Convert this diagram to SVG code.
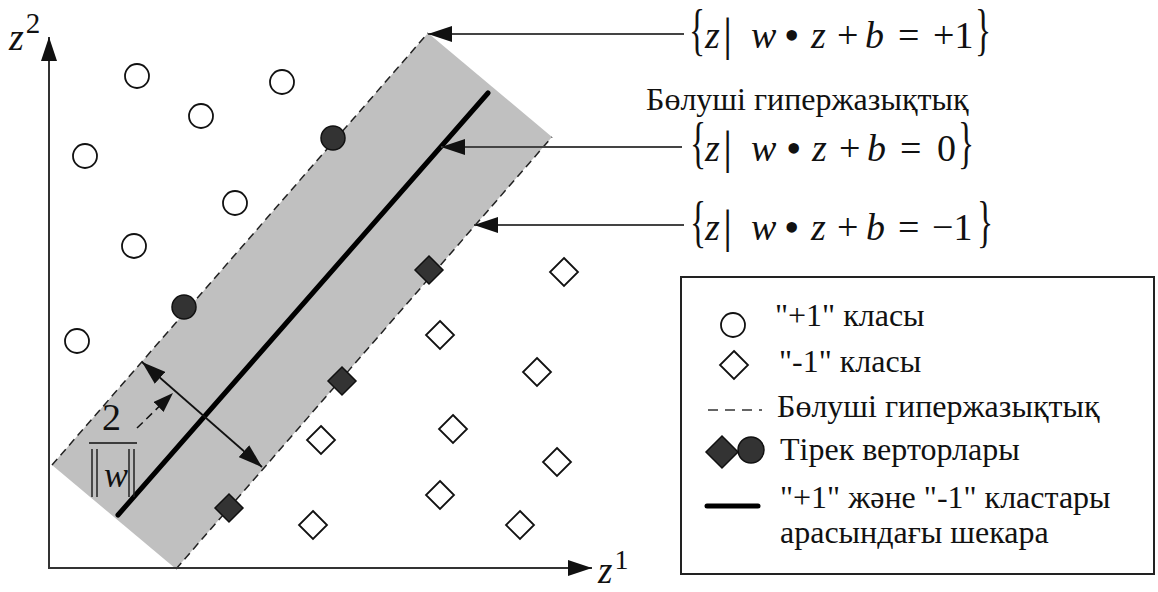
<svg xmlns="http://www.w3.org/2000/svg" xmlns:xlink="http://www.w3.org/1999/xlink" width="1158" height="592" viewBox="0 0 1158 592">
<style>
  .t { font-family: "Liberation Serif", "Times New Roman", serif; fill: #111; }
  .it { font-style: italic; }
  .open { fill: #fff; stroke: #111; stroke-width: 1.8; }
  .sv { fill: #333; stroke: #111; stroke-width: 1.5; }
  .axis { stroke: #333; stroke-width: 2; fill: none; }
  .ptr { stroke: #444; stroke-width: 2; fill: none; }
  .dash { stroke: #222; stroke-width: 1.5; stroke-dasharray: 8 5; fill: none; }
  .lg { font-size: 32px; }
  .bar { stroke: #222; stroke-width: 1.5; }
</style>
<defs>
  <marker id="ah" markerUnits="userSpaceOnUse" markerWidth="24" markerHeight="16" viewBox="0 0 24 16" refX="24" refY="8" orient="auto-start-reverse">
    <path d="M0,0 L24,8 L0,16 Z" fill="#111"/>
  </marker>
  <marker id="ahs" markerUnits="userSpaceOnUse" markerWidth="20" markerHeight="14" viewBox="0 0 20 14" refX="20" refY="7" orient="auto">
    <path d="M0,0 L20,7 L0,14 Z" fill="#111"/>
  </marker>
  <circle id="circ" r="12"/>
  <path id="diam" d="M0,-14 L14,0 L0,14 L-14,0 Z"/>
</defs>

<!-- margin band -->
<g id="band">
  <polygon points="428,33 552,137 176,569 52,465" fill="#c0c0c0"/>
  <line class="dash" x1="52" y1="465" x2="428" y2="33"/>
  <line class="dash" x1="176" y1="569" x2="552" y2="137"/>
  <line x1="118" y1="515" x2="488" y2="93" stroke="#000" stroke-width="5" stroke-linecap="round"/>
</g>

<!-- axes -->
<g id="axes">
  <line class="axis" x1="49" y1="569" x2="49" y2="37" marker-end="url(#ah)"/>
  <line class="axis" x1="48" y1="568" x2="592" y2="568" marker-end="url(#ah)"/>
  <text class="t" x="9" y="50"><tspan class="it" font-size="38">z</tspan><tspan font-size="29" dx="2" dy="-17">2</tspan></text>
  <text class="t" x="598" y="583"><tspan class="it" font-size="37">z</tspan><tspan font-size="28" dx="2" dy="-14">1</tspan></text>
</g>

<!-- "+1" class points -->
<g id="p1"><use xlink:href="#circ" class="open" x="137" y="76"/></g>
<g id="p2"><use xlink:href="#circ" class="open" x="282" y="82"/></g>
<g id="p3"><use xlink:href="#circ" class="open" x="201" y="116"/></g>
<g id="p4"><use xlink:href="#circ" class="open" x="85" y="156"/></g>
<g id="p5"><use xlink:href="#circ" class="open" x="235" y="203"/></g>
<g id="p6"><use xlink:href="#circ" class="open" x="134" y="246"/></g>
<g id="p7"><use xlink:href="#circ" class="open" x="77" y="341"/></g>
<g id="sv1"><use xlink:href="#circ" class="sv" x="333" y="138"/></g>
<g id="sv2"><use xlink:href="#circ" class="sv" x="184" y="307"/></g>

<!-- "-1" class points -->
<g id="n1"><use xlink:href="#diam" class="open" x="564" y="272"/></g>
<g id="n2"><use xlink:href="#diam" class="open" x="440" y="335"/></g>
<g id="n3"><use xlink:href="#diam" class="open" x="537" y="372"/></g>
<g id="n4"><use xlink:href="#diam" class="open" x="321" y="440"/></g>
<g id="n5"><use xlink:href="#diam" class="open" x="453" y="429"/></g>
<g id="n6"><use xlink:href="#diam" class="open" x="557" y="462"/></g>
<g id="n7"><use xlink:href="#diam" class="open" x="440" y="495"/></g>
<g id="n8"><use xlink:href="#diam" class="open" x="313" y="525"/></g>
<g id="n9"><use xlink:href="#diam" class="open" x="520" y="525"/></g>
<g id="sv3"><use xlink:href="#diam" class="sv" x="429" y="270"/></g>
<g id="sv4"><use xlink:href="#diam" class="sv" x="342" y="381"/></g>
<g id="sv5"><use xlink:href="#diam" class="sv" x="229" y="508"/></g>

<!-- connectors -->
<g id="connectors">
  <line class="ptr" x1="684" y1="34" x2="428" y2="34" marker-end="url(#ah)"/>
  <line class="ptr" x1="682" y1="147" x2="441" y2="147" marker-end="url(#ah)"/>
  <line class="ptr" x1="684" y1="225" x2="474" y2="225" marker-end="url(#ah)"/>
  <line x1="142" y1="362" x2="262" y2="467" stroke="#111" stroke-width="1.8" marker-start="url(#ah)" marker-end="url(#ah)"/>
  <line x1="137" y1="428" x2="173" y2="393" stroke="#111" stroke-width="1.5" stroke-dasharray="8 5" marker-end="url(#ahs)"/>
</g>

<!-- margin label 2/||w|| -->
<g id="margin-label">
  <text class="t" x="102" y="430" font-size="38">2</text>
  <line x1="89" y1="443" x2="137" y2="443" stroke="#111" stroke-width="1.6"/>
  <line class="bar" x1="92" y1="449" x2="92" y2="497"/>
  <line class="bar" x1="97" y1="449" x2="97" y2="497"/>
  <text class="t it" x="104" y="487" font-size="36">w</text>
  <line class="bar" x1="129" y1="449" x2="129" y2="497"/>
  <line class="bar" x1="134" y1="449" x2="134" y2="497"/>
</g>

<!-- formula +1 -->
<g id="f-plus1" class="t">
  <text transform="translate(689,49) scale(0.6,1)" font-size="56">{</text>
  <text class="it" x="705" y="48" font-size="38">z</text>
  <text x="723" y="50" font-size="46">|</text>
  <text class="it" x="751" y="48" font-size="38">w</text>
  <text x="784" y="50" font-size="44">•</text>
  <text class="it" x="811" y="48" font-size="38">z</text>
  <text x="837" y="48" font-size="38">+</text>
  <text class="it" x="865" y="48" font-size="38">b</text>
  <text x="898" y="48" font-size="38">=</text>
  <text x="933" y="48" font-size="38">+1</text>
  <text transform="translate(975,49) scale(0.6,1)" font-size="56">}</text>
</g>

<!-- separating hyperplane label + formula 0 -->
<g id="f-zero" class="t">
  <text x="646" y="110" font-size="32">Бөлуші гипержазықтық</text>
  <text transform="translate(690,162) scale(0.6,1)" font-size="56">{</text>
  <text class="it" x="705" y="161" font-size="38">z</text>
  <text x="723" y="163" font-size="46">|</text>
  <text class="it" x="751" y="161" font-size="38">w</text>
  <text x="786" y="163" font-size="44">•</text>
  <text class="it" x="812" y="161" font-size="38">z</text>
  <text x="839" y="161" font-size="38">+</text>
  <text class="it" x="867" y="161" font-size="38">b</text>
  <text x="900" y="161" font-size="38">=</text>
  <text x="937" y="161" font-size="38">0</text>
  <text transform="translate(958,162) scale(0.6,1)" font-size="56">}</text>
</g>

<!-- formula -1 -->
<g id="f-minus1" class="t">
  <text transform="translate(690,241) scale(0.6,1)" font-size="56">{</text>
  <text class="it" x="705" y="240" font-size="38">z</text>
  <text x="723" y="242" font-size="46">|</text>
  <text class="it" x="751" y="240" font-size="38">w</text>
  <text x="784" y="242" font-size="44">•</text>
  <text class="it" x="811" y="240" font-size="38">z</text>
  <text x="837" y="240" font-size="38">+</text>
  <text class="it" x="866" y="240" font-size="38">b</text>
  <text x="898" y="240" font-size="38">=</text>
  <text x="932" y="240" font-size="38">−1</text>
  <text transform="translate(977,241) scale(0.6,1)" font-size="56">}</text>
</g>

<!-- legend -->
<g id="legend">
  <rect x="681" y="277" width="473" height="297" fill="#fff" stroke="#222" stroke-width="2"/>
  <use xlink:href="#circ" class="open" x="733" y="325"/>
  <text class="t lg" x="775" y="326">"+1" класы</text>
  <use xlink:href="#diam" class="open" x="734" y="365"/>
  <text class="t lg" x="779" y="372">"-1" класы</text>
  <line x1="708" y1="410" x2="762" y2="410" stroke="#333" stroke-width="1.3" stroke-dasharray="10 7"/>
  <text class="t lg" x="777" y="417">Бөлуші гипержазықтық</text>
  <path d="M722,436 L738,452 L722,468 L706,452 Z" class="sv"/>
  <circle cx="751" cy="450" r="13" class="sv"/>
  <text class="t lg" x="780" y="460">Тірек верторлары</text>
  <line x1="707" y1="506" x2="758" y2="506" stroke="#000" stroke-width="5" stroke-linecap="round"/>
  <text class="t lg" x="780" y="508">"+1" және "-1" кластары</text>
  <text class="t lg" x="780" y="543">арасындағы шекара</text>
</g>
</svg>
